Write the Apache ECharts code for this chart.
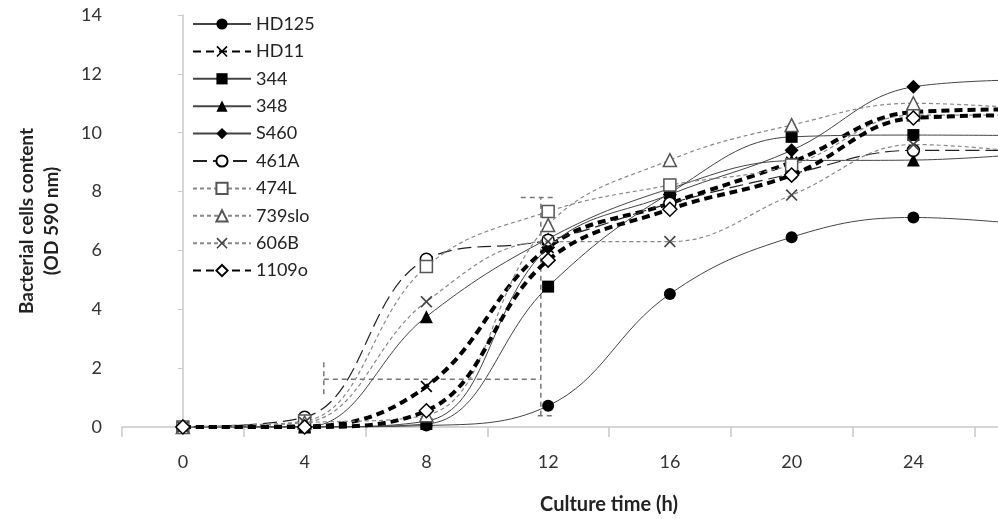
<!DOCTYPE html>
<html>
<head>
<meta charset="utf-8">
<script src="https://cdn.jsdelivr.net/npm/echarts@6/dist/echarts.min.js"></script>
<style>html,body{margin:0;padding:0;background:#fff}#c{width:998px;height:519px}</style>
</head>
<body>
<div id="c"></div>
<script>
const times = [0, 4, 8, 12, 16, 20, 24, 28];
const xTickLabels = ['0', '4', '8', '12', '16', '20', '24'];
const yTickLabels = ['0', '2', '4', '6', '8', '10', '12', '14'];
const seriesNames = ['HD125', 'HD11', '344', '348', 'S460', '461A', '474L', '739slo', '606B', '1109o'];
const HD125  = [0, 0,    0.05, 0.72, 4.52, 6.45, 7.12, 6.85];
const HD11   = [0, 0.02, 1.38, 6.1,  7.6,  9.0,  10.7, 10.8];
const s344   = [0, 0,    0.1,  4.77, 7.95, 9.86, 9.92, 9.9];
const s348   = [0, 0,    3.75, 6.4,  8.1,  9.05, 9.07, 9.3];
const S460   = [0, 0,    0.2,  6.1,  7.9,  9.4,  11.56, 11.8];
const s461A  = [0, 0.33, 5.7,  6.35, 7.6,  8.6,  9.4,  9.4];
const s474L  = [0, 0.2,  5.45, 7.32, 8.22, 8.9,  10.6, 10.6];
const s739slo= [0, 0.15, 0.4,  6.86, 9.07, 10.26, 11.0, 10.8];
const s606B  = [0, 0.15, 4.26, 6.3,  6.3,  7.88, 9.6,  9.3];
const s1109o = [0, 0,    0.55, 5.67, 7.4,  8.56, 10.5, 10.6];
const seriesValues = [HD125, HD11, s344, s348, S460, s461A, s474L, s739slo, s606B, s1109o];
// dashed bracket annotations (time, value)
const bracketH = [[4.63, 1.62], [11.76, 1.62]];
const bracketHCap = [[4.63, 2.2], [4.63, 1.05]];
const bracketV = [[11.76, 0.38], [11.76, 7.8]];
const bracketVTop = [[11.1, 7.8], [12.25, 7.8]];
const bracketVBot = [[11.66, 0.38], [12.25, 0.38]];

const X_PATH = 'path://M0,1 L1,0 L5,4 L9,0 L10,1 L6,5 L10,9 L9,10 L5,6 L1,10 L0,9 L4,5 Z';
const styles = [
  {symbol:'circle', fill:'#000', border:'#000', line:'#444', width:1, type:'solid', size:12},
  {symbol:X_PATH, fill:'#000', border:'#000', line:'#000', width:4, type:[8,5], size:12},
  {symbol:'rect', fill:'#000', border:'#000', line:'#444', width:1, type:'solid', size:12},
  {symbol:'triangle', fill:'#000', border:'#000', line:'#444', width:1, type:'solid', size:13},
  {symbol:'diamond', fill:'#000', border:'#000', line:'#444', width:1, type:'solid', size:14},
  {symbol:'circle', fill:'#fff', border:'#000', line:'#222', width:1.2, type:[14,6], size:12},
  {symbol:'rect', fill:'#fff', border:'#555', line:'#888', width:1.2, type:[4,3], size:12},
  {symbol:'triangle', fill:'#fff', border:'#555', line:'#888', width:1.2, type:[4,3], size:13},
  {symbol:X_PATH, fill:'#444', border:'#444', line:'#888', width:1.2, type:[4,3], size:12},
  {symbol:'diamond', fill:'#fff', border:'#000', line:'#000', width:4, type:[8,5], size:14}
];

const series = seriesNames.map((n, i) => ({
  name: n,
  type: 'line',
  smooth: 0.4,
  xAxisIndex: 0,
  data: times.map((t, k) => [t, seriesValues[i][k]]),
  symbol: styles[i].symbol,
  symbolSize: styles[i].size,
  showAllSymbol: true,
  itemStyle: {color: styles[i].fill, borderColor: styles[i].border, borderWidth: styles[i].fill === '#fff' ? 1.5 : 0},
  lineStyle: {color: styles[i].line, width: styles[i].width, type: styles[i].type},
  emphasis: {disabled: true},
  z: 3 + i
}));
[bracketH, bracketHCap, bracketV, bracketVTop, bracketVBot].forEach(d => {
  series.push({
    type: 'line', data: d, symbol: 'none', silent: true,
    lineStyle: {color: '#777', width: 1.5, type: [5, 4]}, z: 2
  });
});

const chart = echarts.init(document.getElementById('c'), null, {renderer: 'canvas'});
const font = 'Lato, "Open Sans", sans-serif';
chart.setOption({
  animation: false,
  backgroundColor: '#fff',
  textStyle: {fontFamily: font},
  grid: {left: 122, top: 15, width: 974, height: 412, containLabel: false, outerBoundsMode: 'none'},
  legend: {
    data: seriesNames,
    orient: 'vertical',
    left: 187, top: 10,
    itemWidth: 58, itemHeight: 14, itemGap: 9.4,
    textStyle: {fontFamily: font, fontSize: 18, color: '#222', lineHeight: 18},
    selectedMode: false
  },
  xAxis: [{
    type: 'value', min: -2, max: 30, interval: 2,
    axisLine: {show: true, lineStyle: {color: '#c8c8c8', width: 1.5}},
    axisTick: {show: false},
    splitLine: {show: false},
    axisLabel: {
      margin: 26, fontSize: 18, color: '#333', fontFamily: font,
      formatter: v => (v >= 0 && v <= 24 && v % 4 === 0) ? xTickLabels[v / 4] : ''
    },
    name: 'Culture time (h)', nameLocation: 'middle', nameGap: 68,
    nameTextStyle: {fontWeight: 'bold', fontSize: 20, color: '#222', fontFamily: font}
  }, {
    type: 'value', min: -2, max: 30, interval: 4, position: 'bottom',
    axisLine: {show: false},
    axisTick: {show: true, inside: false, length: 10, lineStyle: {color: '#c8c8c8', width: 1.5}},
    axisLabel: {show: false}, splitLine: {show: false}
  }],
  yAxis: {
    type: 'value', min: 0, max: 14, interval: 2,
    axisLine: {show: true, lineStyle: {color: '#c8c8c8', width: 1.5}},
    axisTick: {show: true, length: 5, lineStyle: {color: '#c8c8c8'}},
    splitLine: {show: false},
    axisLabel: {margin: 20, fontSize: 18, color: '#333', fontFamily: font,
      formatter: v => yTickLabels[Math.round(v / 2)]},
    name: 'Bacterial cells content\n(OD 590 nm)', nameLocation: 'middle', nameGap: 58,
    nameTextStyle: {fontWeight: 'bold', fontSize: 19, color: '#222', lineHeight: 25, fontFamily: font}
  },
  series: series
});
</script>
</body>
</html>
